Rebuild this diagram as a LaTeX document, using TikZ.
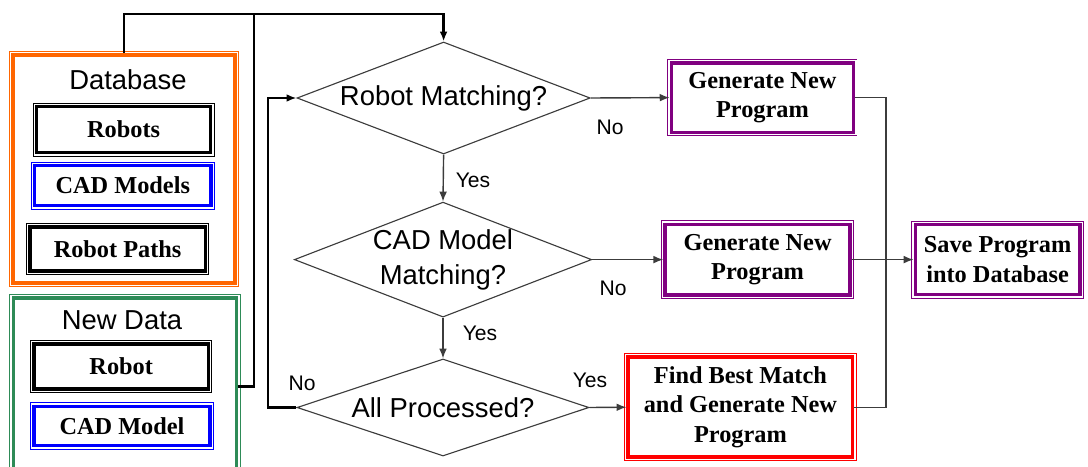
\documentclass[tikz,border=0pt]{standalone}
\usepackage{fontspec}
\setmainfont{Liberation Serif}
\newfontfamily\arialfont{Liberation Sans}
\usepackage{tikz}
\usetikzlibrary{shapes.geometric, arrows.meta}

\definecolor{dborange}{RGB}{255,102,0}
\definecolor{ndgreen}{RGB}{46,139,87}
\definecolor{genpurple}{RGB}{128,0,128}
\definecolor{linegray}{RGB}{60,60,60}

\begin{document}
\begin{tikzpicture}[
		>={Latex[length=7pt,width=5.5pt]},
		dblframe/.style = {draw=#1, line width=2.6pt, fill=white,
			preaction={draw=#1, line width=5.8pt},
			preaction={draw=white, line width=4.4pt}},
		item/.style = {dblframe=#1, inner sep=0pt, align=center,
			font=\bfseries\fontsize{17.3}{20.8}\selectfont},
		decide/.style = {diamond, draw=linegray, line width=0.8pt, inner sep=0pt,
			align=center, font=\arialfont\fontsize{19.5}{24.8}\selectfont},
		title/.style = {font=\arialfont\fontsize{19.5}{24}\selectfont},
		answer/.style = {font=\arialfont\fontsize{15}{18}\selectfont},
		link/.style = {draw=linegray, line width=1pt},
		feed/.style = {draw=black, line width=1.6pt}
	]
		\useasboundingbox (0,0) rectangle (27.2,11.65);
		
		% stored data
		\begin{scope}
		\node [item=dborange, minimum width=5.55cm, minimum height=5.7cm] (db) at (3.10,7.425) {};
		\node [title] (dbtitle) at (3.20,9.65) {Database};
		\node [item=black, minimum width=4.35cm, minimum height=1.15cm] (robots) at (3.09,8.41) {Robots};
		\node [item=blue, minimum width=4.41cm, minimum height=1.0cm] (cadmodels) at (3.07,7.01) {CAD Models};
		\node [item=black, minimum width=4.39cm, minimum height=1.1cm] (paths) at (2.94,5.425) {Robot Paths};
		\end{scope}
		
		% incoming data
		\begin{scope}
		\node [item=ndgreen, minimum width=5.575cm, minimum height=4.425cm] (newdata) at (3.125,1.99) {};
		\node [title] (ndtitle) at (3.05,3.65) {New Data};
		\node [item=black, minimum width=4.36cm, minimum height=1.125cm] (robot) at (3.03,2.49) {Robot};
		\node [item=blue, minimum width=4.4cm, minimum height=0.975cm] (cadmodel) at (3.05,1.0) {CAD Model};
		\end{scope}
		
		% decisions
		\begin{scope}
		\node [decide, aspect=2.6, minimum width=7.33cm, minimum height=2.8cm] (rm) at (11.09,9.2) {Robot Matching?};
		\node [decide, aspect=2.6, minimum width=7.3cm, minimum height=2.875cm] (cm) at (11.075,5.16) {CAD Model\\Matching?};
		\node [decide, aspect=3, minimum width=7.3cm, minimum height=2.425cm] (ap) at (11.075,1.4625) {All Processed?};
		\end{scope}
		
		% programs
		\begin{scope}
		\node [item=genpurple, minimum width=4.55cm, minimum height=1.74cm] (gen1) at (19.06,9.21) {Generate New\\Program};
		\node [item=genpurple, minimum width=4.625cm, minimum height=1.76cm] (gen2) at (18.94,5.16) {Generate New\\Program};
		\node [item=genpurple, minimum width=4.11cm, minimum height=1.75cm] (save) at (24.94,5.16) {Save Program\\into Database};
		\node [item=red, minimum width=5.61cm, minimum height=2.5cm] (find) at (18.51,1.47) {Find Best Match\\and Generate New\\Program};
		\end{scope}
		
		\coordinate (bus) at (6.35,11.3);
		\coordinate (back) at (6.7,1.4625);
		\coordinate (merge) at (22.15,5.16);
		
		\begin{scope}
		\draw [feed, ->] (db.north) |- (bus) -| (rm.north);
		\draw [feed] (newdata.east) -| (bus);
		\draw [feed, ->] (ap.west) -- (back) |- (rm.west);
		\end{scope}
		
		\begin{scope}
		\draw [link, ->] (rm.south) -- (cm.north);
		\draw [link, ->] (cm.south) -- (ap.north);
		\draw [link, ->] (rm.east) -- (gen1.west);
		\draw [link, ->] (cm.east) -- (gen2.west);
		\draw [link, ->] (ap.east) -- (find.west);
		\draw [link] (gen1.east) -| (merge);
		\draw [link] (find.east) -| (merge);
		\draw [link, ->] (gen2.east) -- (save.west);
		\end{scope}
		
		\node [answer] (yes1) at (11.825,7.15) {Yes};
		\node [answer] (no1) at (15.25,8.475) {No};
		\node [answer] (yes2) at (12.0,3.325) {Yes};
		\node [answer] (no2) at (15.325,4.45) {No};
		\node [answer] (yes3) at (14.75,2.15) {Yes};
		\node [answer] (no3) at (7.55,2.075) {No};
	\end{tikzpicture}
\end{document}
